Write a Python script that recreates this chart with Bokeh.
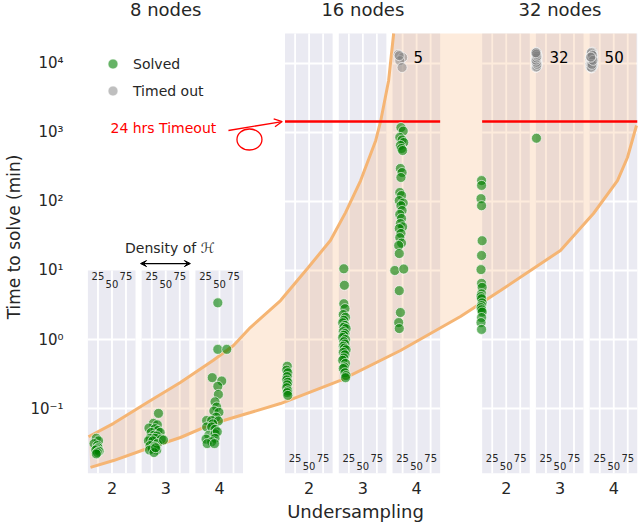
import numpy as np
from bokeh.plotting import figure
from bokeh.models import ColumnDataSource, FixedTicker, Legend, LegendItem, Arrow, OpenHead, VeeHead
from bokeh.core.properties import value
from bokeh.embed import file_html
from bokeh.resources import INLINE

# ---------------- data ----------------
group_titles = ["8 nodes", "16 nodes", "32 nodes"]
undersampling = [2, 3, 4]
density_ticks = [25, 50, 75]
timeout_minutes = 1440
time_ticks = [0.1, 1, 10, 100, 1000, 10000]
time_tick_labels = ["10\u207b\u00b9", "10\u2070", "10\u00b9", "10\u00b2", "10\u00b3", "10\u2074"]

# solved runs: density of H (%) and time to solve (min)
n8_u2_density = [22, 26, 18, 24, 25, 23, 21, 27, 24, 22]
n8_u2_time = [0.037, 0.034, 0.031, 0.029, 0.027, 0.026, 0.025, 0.024, 0.023, 0.022]
n8_u3_density = [37, 28, 35, 20, 31, 36, 24, 40, 29, 34, 22, 31, 42, 19, 27, 35, 46, 22, 30, 26, 34, 21, 29, 32]
n8_u3_time = [0.085, 0.061, 0.058, 0.052, 0.051, 0.048, 0.045, 0.045, 0.041, 0.040,
              0.037, 0.037, 0.036, 0.034, 0.034, 0.031, 0.035, 0.029, 0.028, 0.026,
              0.025, 0.025, 0.023, 0.027]
n8_u4_density = [47, 47, 63, 37, 54, 47, 48, 42, 45, 40, 49, 44, 27, 36, 48, 38, 27, 36, 42, 31,
                 42, 46, 26, 42, 36, 28, 41]
n8_u4_time = [3.4, 0.72, 0.72, 0.28, 0.25, 0.21, 0.16, 0.125, 0.105, 0.092,
              0.088, 0.075, 0.067, 0.067, 0.066, 0.06, 0.054, 0.054, 0.05, 0.041,
              0.043, 0.046, 0.036, 0.037, 0.033, 0.031, 0.031]
n16_u2_density = [11, 10, 12, 11, 10, 12, 11, 10, 12, 11, 12]
n16_u2_time = [0.41, 0.36, 0.33, 0.29, 0.26, 0.24, 0.22, 0.20, 0.18, 0.17, 0.155]
n16_u3_density = [16, 17, 16, 18, 15, 19, 16, 14, 18, 16, 20, 15, 18, 16, 14, 19, 16, 18, 15, 17,
                  20, 15, 18, 16, 14, 19, 17, 15, 18, 20, 19]
n16_u3_time = [10.6, 6.1, 3.3, 2.8, 2.3, 2.1, 1.9, 1.75, 1.6, 1.5,
               1.44, 1.3, 1.22, 1.15, 1.07, 1.0, 0.93, 0.86, 0.80, 0.75,
               0.71, 0.65, 0.60, 0.54, 0.50, 0.45, 0.40, 0.38, 0.33, 0.30, 0.28]
n16_u4_density = [22, 26, 20, 24, 27, 21, 23, 25, 21, 24, 22, 20, 23, 19, 26, 22, 24, 20, 23, 21,
                  25, 19, 22, 20, 23, 18, 19, 11, 27, 19, 21, 18, 19]
n16_u4_time = [1180, 1050, 850, 780, 716, 650, 586, 548, 301, 263,
               223, 135, 122, 103, 95, 87, 74, 65, 56.7, 48,
               43, 40.6, 34.4, 30, 25, 23, 17.6, 10, 10.5, 5.1, 2.46, 1.76, 1.44]
n32_u2_density = [6, 6, 5, 6, 7, 6, 5, 6, 7, 6, 5, 6, 7, 6, 5, 6, 7, 6, 5, 6]
n32_u2_time = [201, 171, 110, 87, 27, 16.5, 10.3, 6.5, 5.7, 4.6,
               4.2, 3.9, 3.4, 3.1, 2.9, 2.7, 2.5, 2.08, 1.76, 1.40]
n32_u3_density = [8]
n32_u3_time = [826]

# timed-out runs (plotted near 10^4 min)
t16_u4_density = [17, 25, 20, 24, 19]
t16_u4_time = [13500, 12200, 11000, 8750, 13000]
t32_u3_density = [8, 7, 9, 8, 7, 8, 9, 8, 7, 8, 8, 9, 7, 8, 8, 7,
                  9, 8, 7, 8, 9, 8, 7, 8, 8, 9, 8, 7, 8, 9, 8, 7]
t32_u3_time = [9000, 9600, 10300, 11000, 11800, 12600, 13400, 14200,
               8800, 9400, 10100, 10800, 11600, 12400, 13200, 14000,
               9200, 9900, 10600, 11300, 12100, 12900, 13700, 14500,
               8900, 9700, 10400, 11200, 12000, 12800, 13600, 14300]
t32_u4_density = [10, 11, 9, 12, 10, 8, 11, 10, 12, 9,
                  11, 13, 10, 9, 12, 10, 11, 8, 12, 10,
                  11, 9, 13, 10, 11, 12, 9, 10, 8, 11,
                  12, 10, 9, 13, 11, 10, 12, 9, 11, 10,
                  12, 8, 10, 11, 9, 12, 10, 11, 13, 9]
t32_u4_time = [8600, 9100, 9800, 10400, 11200, 12100, 13000, 13900, 14600, 8800,
               9400, 10100, 10800, 11600, 12500, 13400, 14200, 9000, 9600, 10300,
               11000, 11900, 12800, 13700, 8700, 9300, 10000, 10600, 11400, 12300,
               13200, 14000, 8900, 9500, 10200, 10900, 11700, 12600, 13500, 14400,
               9200, 9900, 10500, 11300, 12200, 13100, 8800, 9700, 11100, 12400]
timeout_count_labels = ["5", "32", "50"]
timeout_label_time = 12600

# runtime envelope (position along the layout axis, minutes)
band_upper_pos = [8, 53, 113, 172, 231, 267, 297, 351, 399, 440, 467, 494, 521, 530, 544, 553]
band_upper_time = [0.039, 0.061, 0.122, 0.238, 0.50, 0.82, 1.49, 3.67, 10.7, 27.2, 69, 201, 766, 1490, 5670, 27200]
band_lower_pos = [11.6, 52.7, 113.4, 172.3, 231.3, 297.3, 350.9, 458, 565.2, 672.3, 743.8, 792, 850.9, 909.8, 952.7, 970.5, 986.6]
band_lower_time = [0.014, 0.0176, 0.0263, 0.038, 0.0607, 0.0875, 0.118, 0.255, 0.693, 2.15, 5.13, 9.35, 19.5, 67, 201, 434, 1262]

# ---------------- layout helpers ----------------
FONT = "DejaVu Sans"
TEXT = "#262626"
GROUP_STEP, PANEL_STEP = 352, 96
PANEL_LO, PANEL_HI = 7, 92
Y_BOT = 10 ** -1.942
Y_TOP = [10.0, 10 ** 4.435, 10 ** 4.435]
Y_MAX = 10 ** 4.913
TITLE_Y = 10 ** 4.78


def xpos(g, u, d):
    return g * GROUP_STEP + (u - 2) * PANEL_STEP + np.asarray(d, dtype=float)


p = figure(width=640, height=527, x_range=(-20.5, 990.2), y_range=(Y_BOT, Y_MAX),
           y_axis_type="log", output_backend="svg", toolbar_location=None,
           min_border_left=72, min_border_right=2, min_border_top=0, min_border_bottom=54)
p.xgrid.visible = False
p.ygrid.visible = False
p.outline_line_color = None
p.background_fill_color = "white"
p.border_fill_color = "white"

# panels
ql, qr, qb, qt = [], [], [], []
vx, vy0, vy1 = [], [], []
hx0, hx1, hy = [], [], []
for g in range(3):
    for u in undersampling:
        ql.append(float(xpos(g, u, PANEL_LO)))
        qr.append(float(xpos(g, u, PANEL_HI)))
        qb.append(Y_BOT)
        qt.append(Y_TOP[g])
        for d in density_ticks:
            vx.append(float(xpos(g, u, d)))
            vy0.append(Y_BOT)
            vy1.append(Y_TOP[g])
        for t in time_ticks:
            if Y_BOT < t < Y_TOP[g] * 0.99:
                hx0.append(float(xpos(g, u, PANEL_LO)))
                hx1.append(float(xpos(g, u, PANEL_HI)))
                hy.append(t)
p.quad(left=ql, right=qr, bottom=qb, top=qt, fill_color="#eaeaf2", line_color=None)
p.segment(x0=vx, x1=vx, y0=vy0, y1=vy1, line_color="white", line_width=1.8)
p.segment(x0=hx0, x1=hx1, y0=hy, y1=hy, line_color="white", line_width=1.8)

# envelope band
poly_x = list(band_upper_pos) + [band_lower_pos[-1]] + list(band_lower_pos[::-1])
poly_y = list(band_upper_time) + [band_upper_time[-1]] + list(band_lower_time[::-1])
p.patch(poly_x, poly_y, fill_color="#f4a460", fill_alpha=0.22, line_color=None)
p.line(band_upper_pos, band_upper_time, line_color="#f5b574", line_width=3)
p.line(band_lower_pos, band_lower_time, line_color="#f5b574", line_width=3)

# timeout line
for g in (1, 2):
    p.line([float(xpos(g, 2, PANEL_LO)), float(xpos(g, 4, PANEL_HI))], [timeout_minutes] * 2,
           line_color="red", line_width=2.5)

# points
solved = [(0, 2, n8_u2_density, n8_u2_time), (0, 3, n8_u3_density, n8_u3_time),
          (0, 4, n8_u4_density, n8_u4_time), (1, 2, n16_u2_density, n16_u2_time),
          (1, 3, n16_u3_density, n16_u3_time), (1, 4, n16_u4_density, n16_u4_time),
          (2, 2, n32_u2_density, n32_u2_time), (2, 3, n32_u3_density, n32_u3_time)]
timed = [(1, 4, t16_u4_density, t16_u4_time), (2, 3, t32_u3_density, t32_u3_time),
         (2, 4, t32_u4_density, t32_u4_time)]
sx = np.concatenate([xpos(g, u, d) for g, u, d, t in solved])
sy = np.concatenate([np.asarray(t, float) for g, u, d, t in solved])
tx = np.concatenate([xpos(g, u, d) for g, u, d, t in timed])
ty = np.concatenate([np.asarray(t, float) for g, u, d, t in timed])
r_t = p.scatter(tx, ty, size=10, fill_color="gray", fill_alpha=0.5, line_color="white", line_width=0.8, line_alpha=0.8)
r_s = p.scatter(sx, sy, size=10, fill_color="green", fill_alpha=0.6, line_color="white", line_width=0.8, line_alpha=0.8)

# timeout counts
cx = [float(np.mean(xpos(g, u, d))) for g, u, d, t in timed]
p.text(cx, [timeout_label_time] * 3, text=timeout_count_labels, x_offset=13,
       text_font=value(FONT), text_font_size="15px", text_color="black",
       text_align="left", text_baseline="middle")

# density tick labels in each panel
lx, ly, lt, lo = [], [], [], []
for g in range(3):
    for u in undersampling:
        for d in density_ticks:
            lx.append(float(xpos(g, u, d)))
            lt.append(str(d))
            if g == 0:
                ly.append(Y_TOP[0])
                lo.append(14 if d == 50 else 6)
            else:
                ly.append(Y_BOT)
                lo.append(-8 if d == 50 else -16)
p.text(lx, ly, text=lt, y_offset=lo, text_font=value(FONT), text_font_size="10px",
       text_color=TEXT, text_align="center", text_baseline="middle")

# group titles
p.text([float(xpos(g, 3, 50)) for g in range(3)], [TITLE_Y] * 3, text=group_titles,
       text_font=value(FONT), text_font_size="18px", text_color=TEXT,
       text_align="center", text_baseline="middle")

# Density of H annotation
p.text([float(xpos(0, 3, 50))], [21.5], text=["Density of \u210b"], x_offset=4,
       text_font=value(FONT), text_font_size="14px", text_color=TEXT,
       text_align="center", text_baseline="middle")
p.add_layout(Arrow(x_start=float(xpos(0, 3, 5)), y_start=12.6, x_end=float(xpos(0, 3, 94)), y_end=12.6,
                   start=VeeHead(size=6, fill_color="black", line_color="black"),
                   end=VeeHead(size=6, fill_color="black", line_color="black"),
                   line_color="black", line_width=1.2))

# timeout annotation
p.text([47.3], [1143], text=["24 hrs Timeout"], text_font=value(FONT), text_font_size="14px",
       text_color="red", text_align="left", text_baseline="middle")
p.ellipse(x=[295.5], y=[792], width=25, height=21, width_units="screen", height_units="screen",
          fill_alpha=0, line_color="red", line_width=1.3)
p.add_layout(Arrow(x_start=258, y_start=1069, x_end=354, y_end=timeout_minutes,
                   end=OpenHead(size=8, line_color="red", line_width=1.3),
                   line_color="red", line_width=1.3))

# axes
for ax in (p.xaxis[0], p.yaxis[0]):
    ax.axis_line_color = None
    ax.major_tick_line_color = None
    ax.minor_tick_line_color = None
    ax.major_tick_out = 0
    ax.major_tick_in = 0
    ax.minor_tick_out = 0
    ax.major_label_text_font = FONT
    ax.major_label_text_color = TEXT
    ax.axis_label_text_font = FONT
    ax.axis_label_text_font_style = "normal"
    ax.axis_label_text_color = TEXT
p.yaxis.ticker = FixedTicker(ticks=time_ticks)
p.yaxis.major_label_overrides = {t: lab for t, lab in zip(time_ticks, time_tick_labels)}
p.yaxis.major_label_text_font_size = "15px"
p.yaxis.major_label_standoff = 9
p.yaxis.axis_label = "Time to solve (min)"
p.yaxis.axis_label_text_font_size = "17px"
p.yaxis.axis_label_standoff = 3

xt = [int(xpos(g, u, 50)) for g in range(3) for u in undersampling]
p.xaxis.ticker = FixedTicker(ticks=xt)
p.xaxis.major_label_overrides = {t: str(u) for t, u in zip(xt, undersampling * 3)}
p.xaxis.major_label_text_font_size = "16px"
p.xaxis.major_label_standoff = 8
p.xaxis.axis_label = "Undersampling"
p.xaxis.axis_label_text_font_size = "18px"
p.xaxis.axis_label_standoff = 4

legend = Legend(items=[LegendItem(label="Solved", renderers=[r_s]),
                       LegendItem(label="Timed out", renderers=[r_t])],
                location=(28, 370), glyph_width=25, glyph_height=25, spacing=2,
                padding=0, margin=0, label_standoff=8, border_line_color=None,
                background_fill_alpha=0, label_text_font=FONT, label_text_font_size="14px",
                label_text_color=TEXT)
p.add_layout(legend)

open("out.html", "w").write(file_html(p, INLINE))
